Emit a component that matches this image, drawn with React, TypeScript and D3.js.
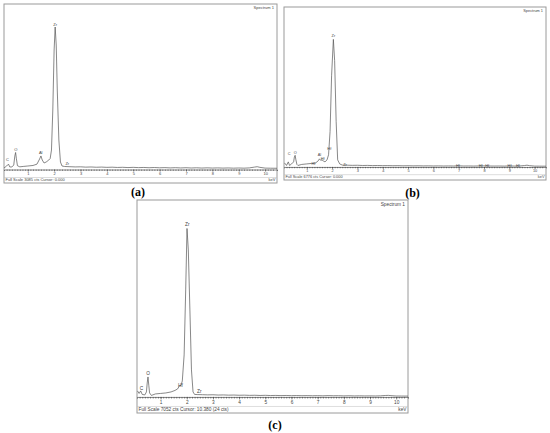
import React, { useRef, useEffect } from "react";
import * as d3 from "d3";

// spectrum (a)
const aEnergy = [0.1, 0.2, 0.27, 0.32, 0.4, 0.47, 0.51, 0.54, 0.57, 0.61, 0.7, 0.85, 1.0, 1.2, 1.35, 1.45, 1.5, 1.55, 1.62, 1.7, 1.8, 1.85, 1.9, 1.95, 2.0, 2.04, 2.08, 2.12, 2.18, 2.24, 2.3,
  2.4, 2.6, 2.8, 3.0, 3.2, 3.4, 3.6, 3.8, 4.0, 4.2, 4.4, 4.6, 4.8, 5.0, 5.2, 5.4, 5.6, 5.8, 6.0, 6.2, 6.4, 6.6, 6.8, 7.0, 7.2, 7.4, 7.6, 7.8, 8.0, 8.2, 8.4, 8.6, 8.8, 9.0, 9.2, 9.4, 9.6, 9.7, 9.8, 10.0, 10.2, 10.45];
const aCounts = [28, 65, 100, 47, 47, 84, 250, 317, 200, 70, 50, 58, 65, 75, 100, 196, 252, 177, 121, 140, 177, 205, 363, 1109, 2227, 2656, 2320, 1482, 550, 140, 65,
  56, 52, 48, 50, 44, 47, 42, 45, 40, 43, 38, 41, 36, 40, 35, 38, 33, 37, 32, 35, 30, 34, 29, 33, 28, 32, 27, 31, 27, 30, 26, 29, 25, 28, 25, 30, 45, 52, 40, 26, 24, 23];
const aLabels = ["C", "O", "Al", "Zr", "Zr"];
const aLabelEnergy = [0.23, 0.55, 1.49, 2.04, 2.5];
const aLabelCounts = [158, 354, 280, 2684, 84];

// spectrum (b)
const bEnergy = [0.12, 0.2, 0.27, 0.32, 0.4, 0.48, 0.51, 0.54, 0.57, 0.61, 0.65, 0.8, 1.0, 1.2, 1.35, 1.45, 1.5, 1.55, 1.6, 1.65, 1.72, 1.8, 1.86, 1.92, 1.98, 2.05, 2.1, 2.16, 2.22, 2.3,
  2.4, 2.6, 2.8, 3.0, 3.2, 3.4, 3.6, 3.8, 4.0, 4.2, 4.4, 4.6, 4.8, 5.0, 5.2, 5.4, 5.6, 5.8, 6.0, 6.2, 6.4, 6.6, 6.8, 7.0, 7.2, 7.4, 7.6, 7.8, 8.0, 8.2, 8.4, 8.6, 8.8, 9.0, 9.2, 9.4, 9.6, 9.7, 9.8, 10.0, 10.2, 10.45];
const bCounts = [172, 64, 215, 64, 129, 215, 420, 493, 300, 107, 64, 107, 129, 150, 172, 257, 343, 279, 300, 257, 215, 300, 515, 1500, 3861, 5405, 4505, 1930, 300, 129,
  80, 75, 68, 72, 62, 66, 58, 62, 55, 58, 52, 55, 48, 52, 46, 50, 44, 47, 42, 45, 40, 43, 40, 48, 40, 42, 38, 44, 46, 40, 38, 40, 36, 44, 38, 40, 60, 75, 55, 36, 34, 32];
const bLabels = ["C", "O", "Hf", "Al", "Hf", "Hf", "Zr", "Zr", "Hf", "Hf", "Hf", "Hf", "Hf"];
const bLabelEnergy = [0.3, 0.54, 1.26, 1.5, 1.63, 1.89, 2.05, 2.51, 6.97, 7.87, 8.13, 9.01, 9.34];
const bLabelCounts = [493, 536, 86, 459, 300, 729, 5491, 43, 12, 12, 12, 12, 12];

// spectrum (c)
const cEnergy = [0.12, 0.18, 0.24, 0.3, 0.4, 0.46, 0.49, 0.52, 0.55, 0.58, 0.65, 0.8, 1.0, 1.2, 1.4, 1.55, 1.65, 1.72, 1.78, 1.83, 1.9, 1.96, 2.01, 2.06, 2.12, 2.18, 2.24, 2.3,
  2.4, 2.6, 2.8, 3.0, 3.2, 3.4, 3.6, 3.8, 4.0, 4.2, 4.4, 4.6, 4.8, 5.0, 5.2, 5.4, 5.6, 5.8, 6.0, 6.2, 6.4, 6.6, 6.8, 7.0, 7.2, 7.4, 7.6, 7.8, 8.0, 8.2, 8.4, 8.6, 8.8, 9.0, 9.2, 9.4, 9.6, 9.7, 9.8, 10.0, 10.2, 10.45];
const cCounts = [215, 125, 215, 90, 72, 179, 500, 716, 420, 143, 54, 107, 125, 143, 179, 233, 286, 394, 412, 573, 1504, 3831, 6032, 5263, 3115, 967, 179, 90,
  85, 80, 74, 78, 68, 72, 64, 68, 60, 64, 56, 60, 52, 58, 50, 54, 48, 52, 46, 50, 44, 48, 42, 46, 40, 48, 42, 44, 38, 42, 36, 40, 36, 38, 35, 40, 52, 56, 46, 34, 32, 30];
const cLabels = ["C", "O", "Hf", "Zr", "Zr"];
const cLabelEnergy = [0.27, 0.52, 1.76, 2.02, 2.48];
const cLabelCounts = [250, 788, 340, 6122, 143];

const keVTicks = [1, 2, 3, 4, 5, 6, 7, 8, 9, 10];

const panels = [
  { id: "a", x: 4, y: 4, w: 273, h: 179, energy: aEnergy, counts: aCounts, labels: aLabels, labelE: aLabelEnergy, labelC: aLabelCounts,
    fullScale: 3085, footer: "Full Scale 3085 cts Cursor: 0.000", caption: "(a)", capX: 138, capY: 196 },
  { id: "b", x: 284, y: 7, w: 262, h: 173, energy: bEnergy, counts: bCounts, labels: bLabels, labelE: bLabelEnergy, labelC: bLabelCounts,
    fullScale: 6776, footer: "Full Scale 6776 cts Cursor: 0.000", caption: "(b)", capX: 412.5, capY: 197 },
  { id: "c", x: 137, y: 200, w: 271, h: 213, energy: cEnergy, counts: cCounts, labels: cLabels, labelE: cLabelEnergy, labelC: cLabelCounts,
    fullScale: 7052, footer: "Full Scale 7052 cts Cursor: 10.380  (24 cts)", caption: "(c)", capX: 275, capY: 429 },
];

const Spectrum = ({ p }: { p: any }) => {
  const axisRef = useRef<SVGGElement>(null);
  const k = p.h / 179;
  const baseY = p.y + p.h - 13.5 * k;
  const fs = 4 * k;
  const x = d3.scaleLinear().domain([0.1, 10.45]).range([p.x, p.x + p.w]);
  const y = d3.scaleLinear().domain([0, p.fullScale]).range([baseY, p.y]);
  const pts: [number, number][] = p.energy.map((e: number, i: number) => [e, p.counts[i]]);
  const line = d3.line<[number, number]>().x((d) => x(d[0])).y((d) => y(d[1]));

  useEffect(() => {
    const g = d3.select(axisRef.current);
    g.selectAll("*").remove();
    const minor = d3.range(2, 104).map((i) => i / 10);
    g.append("g")
      .call(d3.axisBottom(x).tickValues(minor).tickSize(1.4 * k).tickFormat(() => ""))
      .call((s) => s.select(".domain").attr("stroke", "#333").attr("stroke-width", 0.6))
      .call((s) => s.selectAll(".tick line").attr("stroke", "#333").attr("stroke-width", 0.5));
    g.append("g")
      .call(d3.axisBottom(x).tickValues(keVTicks).tickSize(2.2 * k).tickPadding(0.6 * k).tickFormat(d3.format("d")))
      .call((s) => s.select(".domain").remove())
      .call((s) => s.selectAll(".tick line").attr("stroke", "#333").attr("stroke-width", 0.5))
      .call((s) => s.selectAll("text").attr("font-size", fs).attr("fill", "#444").attr("font-family", "Liberation Sans, Arial, sans-serif"));
  }, [p]);

  return (
    <g>
      <defs>
        <clipPath id={`clip-${p.id}`}>
          <rect x={p.x} y={p.y} width={p.w} height={baseY - p.y} />
        </clipPath>
      </defs>
      <rect x={p.x} y={p.y} width={p.w} height={p.h} fill="#fff" stroke="#9a9a9a" strokeWidth={1} />
      <text x={p.x + p.w - 3} y={p.y + 5 * k} fontSize={fs} textAnchor="end" fill="#444">Spectrum 1</text>
      <path d={line(pts) || ""} fill="none" stroke="#555" strokeWidth={0.7} clipPath={`url(#clip-${p.id})`} />
      {p.labels.map((l: string, i: number) => (
        <text key={i} x={x(p.labelE[i])} y={y(p.labelC[i])} fontSize={fs} textAnchor="middle" fill="#444">{l}</text>
      ))}
      <g ref={axisRef} transform={`translate(0,${baseY})`} />
      <line x1={p.x} x2={p.x + p.w} y1={baseY + 8 * k} y2={baseY + 8 * k} stroke="#bbb" strokeWidth={0.5} />
      <text x={p.x + 1.5} y={baseY + 11.5 * k} fontSize={fs} fill="#444">{p.footer}</text>
      <text x={p.x + p.w - 1.5} y={baseY + 11.5 * k} fontSize={fs} textAnchor="end" fill="#444">keV</text>
      <text x={p.capX} y={p.capY} fontSize={12} fontWeight="bold" textAnchor="middle" fontFamily="'Liberation Serif', 'Times New Roman', serif" fill="#000">{p.caption}</text>
    </g>
  );
};

export default function App() {
  return (
    <svg width={550} height={433} style={{ position: "absolute", left: 0, top: 0, background: "#fff" }}
      fontFamily="'Liberation Sans', Arial, sans-serif">
      {panels.map((p) => <Spectrum key={p.id} p={p} />)}
    </svg>
  );
}
